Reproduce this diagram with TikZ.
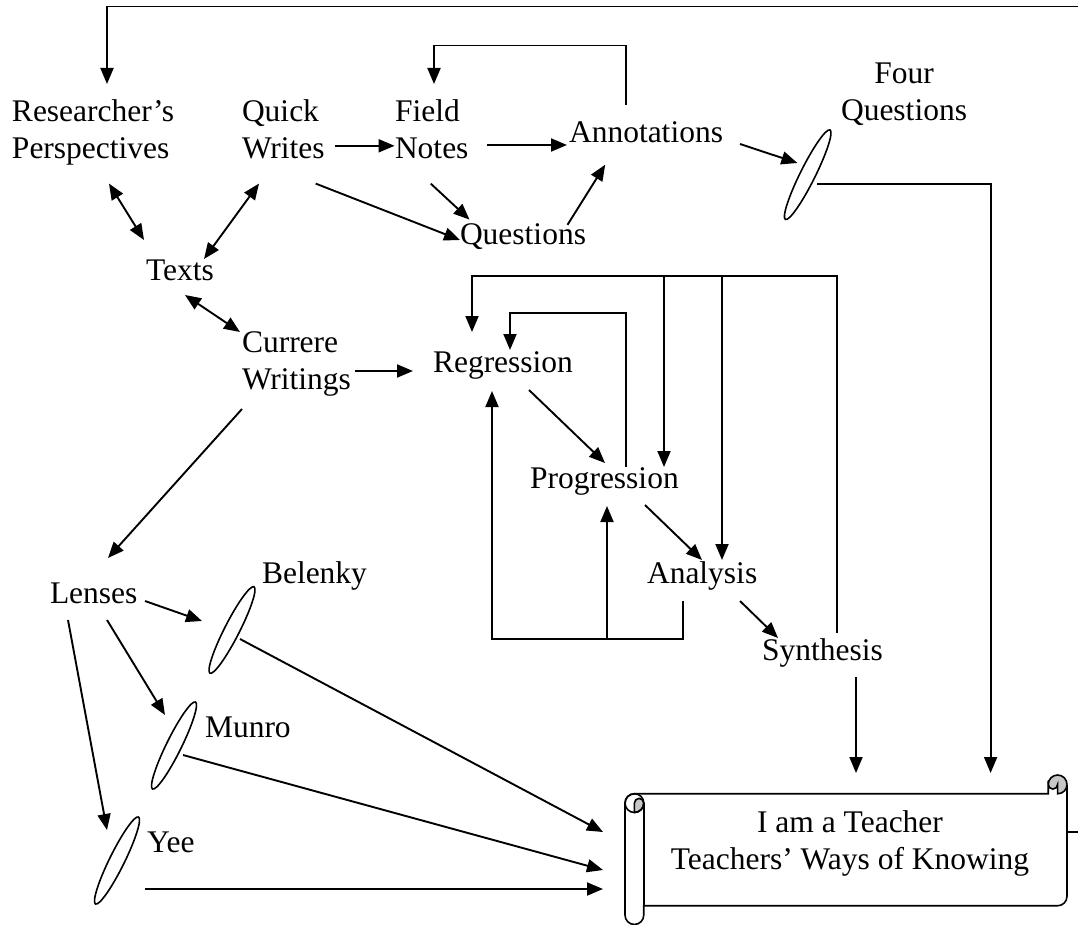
\documentclass[tikz,border=0pt]{standalone}
\usepackage{fontspec}
\setmainfont{Liberation Serif}
\usetikzlibrary{arrows.meta,shapes.geometric}
\begin{document}
\begin{tikzpicture}[x=1pt,y=-1pt,
  lbl/.style={inner sep=0pt,outer sep=0pt,font=\fontsize{31.5}{37}\selectfont,anchor=base west},
  lens/.style={draw,ellipse,line width=1.6pt,minimum width=97pt,minimum height=15pt,inner sep=0pt},
  arr/.style={line width=1.9pt,-{Triangle[length=16pt,width=13pt]}},
  biarr/.style={line width=1.9pt,{Triangle[length=16pt,width=13pt]}-{Triangle[length=16pt,width=13pt]}},
  scr/.style={line width=1.6pt}]
\useasboundingbox (0,0) rectangle (1078,925);
\clip (0,0) rectangle (1078,925);

% scroll shape
\begin{scope}[scr]
\fill[black!22] (1057.6,784.4) circle[radius=9.375];
\draw[fill=white] (1067,784.4) arc[start angle=0,delta angle=90,radius=9.375] -- (1057.6,784.4)
  arc[start angle=0,delta angle=180,radius=4.6875] -- (1048.25,793.75) -- (634.4,793.75)
  arc[start angle=270,delta angle=-90,radius=9.375] -- (625,915.1)
  arc[start angle=180,delta angle=-180,radius=9.375] -- (643.75,905.75) -- (1057.6,905.75)
  arc[start angle=90,delta angle=-90,radius=9.375] -- cycle;
\draw[fill=black!22] (634.4,812.475) arc[start angle=90,delta angle=-90,radius=9.375]
  arc[start angle=0,delta angle=-180,radius=4.6875] -- cycle;
\draw (634.4,803.1) circle[radius=9.375];
\draw (643.75,803.1) -- (643.75,905.75);
\draw (1048.25,784.4) arc[start angle=180,delta angle=180,radius=9.375];
\end{scope}

% labels
\node[lbl] (rp) at (12,122) {\begin{tabular}[t]{@{}l@{}}Researcher’s\\Perspectives\end{tabular}};
\node[lbl] (qw) at (242,122) {\begin{tabular}[t]{@{}l@{}}Quick\\Writes\end{tabular}};
\node[lbl] (fn) at (395,122) {\begin{tabular}[t]{@{}l@{}}Field\\Notes\end{tabular}};
\node[lbl] (an) at (569,143) {Annotations};
\node[lbl,anchor=base] (fq) at (904,84) {\begin{tabular}[t]{@{}c@{}}Four\\Questions\end{tabular}};
\node[lbl] (qu) at (460,245) {Questions};
\node[lbl] (tx) at (146,280) {Texts};
\node[lbl] (cw) at (242,352) {\begin{tabular}[t]{@{}l@{}}Currere\\Writings\end{tabular}};
\node[lbl] (rg) at (433,372) {Regression};
\node[lbl] (pg) at (530,488) {Progression};
\node[lbl] (ay) at (647,583) {Analysis};
\node[lbl] (sy) at (762,660) {Synthesis};
\node[lbl] (ls) at (50,603) {Lenses};
\node[lbl] (bl) at (262,583) {Belenky};
\node[lbl] (mu) at (205,737) {Munro};
\node[lbl] (ye) at (147,852) {Yee};
\node[lbl,anchor=base] (sc) at (850,832) {\begin{tabular}[t]{@{}c@{}}I am a Teacher\\Teachers’ Ways of Knowing\end{tabular}};

% lenses (ellipses)
\node[lens,rotate=63.5,minimum width=100pt] (e4) at (807.7,174.7) {};
\node[lens,rotate=63] (eb) at (232,630) {};
\node[lens,rotate=63.7] (em) at (174,745.5) {};
\node[lens,rotate=63.7] (ey) at (117,860.5) {};

% top loop
\draw[arr] ([shift={(217,0)}]sc.base) -- (1084,832) -- (1084,6.5) -| ([shift={(95,-38)}]rp.base west);
% field notes loop
\draw[arr] ([shift={(57,-38)}]an.base west) -- ++(0,-59.5) -| ([shift={(39,-38)}]fn.base west);

\draw[arr] ([shift={(92.6,23.8)}]qw.base west) -- ([shift={(-0.4,23.8)}]fn.base west);
\draw[arr] ([shift={(92,23)}]fn.base west) -- ([shift={(-2,2)}]an.base west);
\draw[biarr] ([shift={(97,61.6)}]rp.base west) -- ([shift={(-2,-40)}]tx.base west);
\draw[biarr] ([shift={(17,61.6)}]qw.base west) -- ([shift={(58,-21)}]tx.base west);
\draw[arr] ([shift={(73.7,61.6)}]qw.base west) -- ([shift={(0,-5)}]qu.base west);
\draw[arr] ([shift={(35.7,61.6)}]fn.base west) -- ([shift={(9.5,-25.4)}]qu.base west);
\draw[arr] ([shift={(107.5,-20.2)}]qu.base west) -- ([shift={(36.2,21.7)}]an.base west);
\draw[arr] ([shift={(171,1)}]an.base west) -- ([shift={(-10.3,-11.7)}]e4.center);
\draw[arr] ([shift={(9.3,9.3)}]e4.center) -| ([shift={(140.6,-59)}]sc.base);

\draw[biarr] ([shift={(39,15)}]tx.base west) -- ([shift={(-2,-20)}]cw.base west);
\draw[arr] ([shift={(113,19)}]cw.base west) -- ([shift={(-20,-1)}]rg.base west);
\draw[arr] ([shift={(0,57)}]cw.base west) -- ([shift={(58,-45)}]ls.base west);

% regression loops
\draw[arr] ([shift={(75,-27)}]sy.base west) -- ++(0,-357) coordinate (lt) -| ([shift={(39,-40)}]rg.base west);
\coordinate (pgin) at ([shift={(134,-21)}]pg.base west);
\coordinate (ayin) at ([shift={(75,-23)}]ay.base west);
\draw[arr] (pgin |- lt) -- (pgin);
\draw[arr] (ayin |- lt) -- (ayin);
\draw[arr] ([shift={(96,-21)}]pg.base west) -- ++(0,-154) -| ([shift={(77,-22)}]rg.base west);
\draw[arr] ([shift={(96,18)}]rg.base west) -- ([shift={(75,-25)}]pg.base west);
\draw[arr] ([shift={(115,17)}]pg.base west) -- ([shift={(55,-23)}]ay.base west);
\draw[arr] ([shift={(93,18)}]ay.base west) -- ([shift={(16,-22)}]sy.base west);
\draw[arr] ([shift={(36,18)}]ay.base west) -- ++(0,38) coordinate (lb) -| ([shift={(59,19)}]rg.base west);
\coordinate (pgup) at ([shift={(77,18)}]pg.base west);
\draw[arr] (pgup |- lb) -- (pgup);

% lenses connectors
\draw[arr] ([shift={(95,-2)}]ls.base west) -- ([shift={(-30,-9)}]eb.center);
\draw[arr] ([shift={(57,17)}]ls.base west) -- ([shift={(-9,-30.5)}]em.center);
\draw[arr] ([shift={(18,17)}]ls.base west) -- ([shift={(-10,-30.5)}]ey.center);
\draw[arr] ([shift={(8,9)}]eb.center) -- ([shift={(-247,0)}]sc.base);
\draw[arr] ([shift={(9,9.5)}]em.center) -- ([shift={(-247,38)}]sc.base);
\draw[arr] ([shift={(28,28.5)}]ey.center) -- ([shift={(-247,57)}]sc.base);
\draw[arr] ([shift={(94,17)}]sy.base west) -- ([shift={(6,-59)}]sc.base);
\end{tikzpicture}
\end{document}
